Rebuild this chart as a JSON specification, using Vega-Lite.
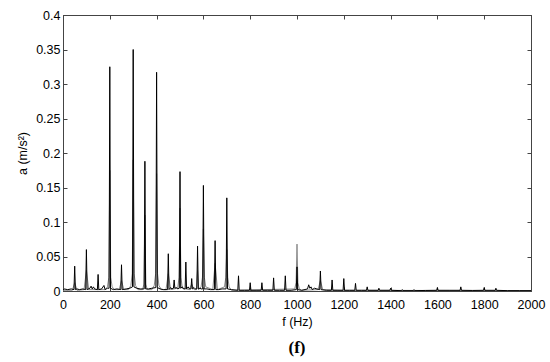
{
  "$schema": "https://vega.github.io/schema/vega-lite/v6.json",
  "width": 468,
  "height": 276,
  "autosize": {"type": "none"},
  "padding": {"left": 63, "top": 15, "right": 19, "bottom": 71},
  "background": "white",
  "title": {"text": "(f)", "orient": "bottom", "font": "Liberation Serif", "fontSize": 17, "fontWeight": "bold", "color": "#000", "offset": 12},
  "config": {
    "view": {"stroke": "#444", "strokeWidth": 1},
    "axis": {"grid": false, "labelFont": "Liberation Sans", "labelFontSize": 12.5, "labelColor": "#000", "titleFont": "Liberation Sans", "titleFontSize": 12.5, "titleFontWeight": "normal", "titleColor": "#000", "domainColor": "#444", "tickColor": "#444", "tickSize": -4}
  },
  "datasets": {
    "black": [
      {"f": 0, "a": 0.001}, {"f": 5, "a": 0.003}, {"f": 20, "a": 0.002}, {"f": 35, "a": 0.003},
      {"f": 47, "a": 0.002}, {"f": 50, "a": 0.036}, {"f": 53, "a": 0.002},
      {"f": 60, "a": 0.003}, {"f": 70, "a": 0.002}, {"f": 85, "a": 0.003},
      {"f": 97, "a": 0.002}, {"f": 100, "a": 0.060}, {"f": 103, "a": 0.002},
      {"f": 115, "a": 0.004}, {"f": 120, "a": 0.007}, {"f": 125, "a": 0.003}, {"f": 130, "a": 0.006}, {"f": 135, "a": 0.003},
      {"f": 147, "a": 0.002}, {"f": 150, "a": 0.024}, {"f": 153, "a": 0.002},
      {"f": 165, "a": 0.003}, {"f": 175, "a": 0.008}, {"f": 180, "a": 0.002}, {"f": 190, "a": 0.004},
      {"f": 197, "a": 0.004}, {"f": 200, "a": 0.325}, {"f": 203, "a": 0.004},
      {"f": 215, "a": 0.002}, {"f": 230, "a": 0.003},
      {"f": 247, "a": 0.002}, {"f": 250, "a": 0.038}, {"f": 253, "a": 0.002},
      {"f": 270, "a": 0.003}, {"f": 285, "a": 0.004},
      {"f": 297, "a": 0.006}, {"f": 300, "a": 0.350}, {"f": 303, "a": 0.006},
      {"f": 315, "a": 0.004}, {"f": 330, "a": 0.003},
      {"f": 347, "a": 0.003}, {"f": 350, "a": 0.188}, {"f": 353, "a": 0.003},
      {"f": 365, "a": 0.003}, {"f": 380, "a": 0.004},
      {"f": 397, "a": 0.005}, {"f": 400, "a": 0.317}, {"f": 403, "a": 0.005},
      {"f": 415, "a": 0.003}, {"f": 430, "a": 0.002},
      {"f": 447, "a": 0.002}, {"f": 450, "a": 0.054}, {"f": 453, "a": 0.002},
      {"f": 460, "a": 0.005}, {"f": 465, "a": 0.003}, {"f": 472, "a": 0.004}, {"f": 475, "a": 0.016}, {"f": 478, "a": 0.004}, {"f": 485, "a": 0.005}, {"f": 490, "a": 0.003},
      {"f": 497, "a": 0.004}, {"f": 500, "a": 0.173}, {"f": 503, "a": 0.004},
      {"f": 510, "a": 0.006}, {"f": 515, "a": 0.003},
      {"f": 522, "a": 0.003}, {"f": 525, "a": 0.042}, {"f": 528, "a": 0.003},
      {"f": 535, "a": 0.006}, {"f": 540, "a": 0.003},
      {"f": 547, "a": 0.003}, {"f": 550, "a": 0.018}, {"f": 553, "a": 0.003},
      {"f": 560, "a": 0.005}, {"f": 565, "a": 0.003},
      {"f": 572, "a": 0.003}, {"f": 575, "a": 0.065}, {"f": 578, "a": 0.003},
      {"f": 585, "a": 0.004}, {"f": 590, "a": 0.003},
      {"f": 597, "a": 0.003}, {"f": 600, "a": 0.153}, {"f": 603, "a": 0.003},
      {"f": 615, "a": 0.003}, {"f": 630, "a": 0.002},
      {"f": 647, "a": 0.002}, {"f": 650, "a": 0.073}, {"f": 653, "a": 0.002},
      {"f": 665, "a": 0.002}, {"f": 680, "a": 0.003},
      {"f": 697, "a": 0.003}, {"f": 700, "a": 0.135}, {"f": 703, "a": 0.003},
      {"f": 720, "a": 0.002},
      {"f": 747, "a": 0.001}, {"f": 750, "a": 0.022}, {"f": 753, "a": 0.001},
      {"f": 775, "a": 0.001},
      {"f": 797, "a": 0.001}, {"f": 800, "a": 0.012}, {"f": 803, "a": 0.001},
      {"f": 825, "a": 0.001},
      {"f": 847, "a": 0.001}, {"f": 850, "a": 0.012}, {"f": 853, "a": 0.001},
      {"f": 875, "a": 0.001},
      {"f": 897, "a": 0.001}, {"f": 900, "a": 0.019}, {"f": 903, "a": 0.001},
      {"f": 925, "a": 0.001},
      {"f": 947, "a": 0.001}, {"f": 950, "a": 0.022}, {"f": 953, "a": 0.001},
      {"f": 975, "a": 0.001},
      {"f": 997, "a": 0.002}, {"f": 1000, "a": 0.035}, {"f": 1003, "a": 0.002},
      {"f": 1020, "a": 0.001},
      {"f": 1045, "a": 0.003}, {"f": 1050, "a": 0.009}, {"f": 1055, "a": 0.004}, {"f": 1060, "a": 0.006}, {"f": 1065, "a": 0.002}, {"f": 1075, "a": 0.004}, {"f": 1085, "a": 0.003},
      {"f": 1097, "a": 0.002}, {"f": 1100, "a": 0.029}, {"f": 1103, "a": 0.002},
      {"f": 1125, "a": 0.001},
      {"f": 1147, "a": 0.001}, {"f": 1150, "a": 0.016}, {"f": 1153, "a": 0.001},
      {"f": 1175, "a": 0.001},
      {"f": 1197, "a": 0.001}, {"f": 1200, "a": 0.018}, {"f": 1203, "a": 0.001},
      {"f": 1225, "a": 0.001},
      {"f": 1247, "a": 0.001}, {"f": 1250, "a": 0.011}, {"f": 1253, "a": 0.001},
      {"f": 1275, "a": 0.001},
      {"f": 1297, "a": 0.001}, {"f": 1300, "a": 0.006}, {"f": 1303, "a": 0.001},
      {"f": 1347, "a": 0.001}, {"f": 1350, "a": 0.004}, {"f": 1353, "a": 0.001},
      {"f": 1397, "a": 0.001}, {"f": 1400, "a": 0.004}, {"f": 1403, "a": 0.001},
      {"f": 1447, "a": 0.0005}, {"f": 1450, "a": 0.002}, {"f": 1453, "a": 0.0005},
      {"f": 1497, "a": 0.0005}, {"f": 1500, "a": 0.002}, {"f": 1503, "a": 0.0005},
      {"f": 1550, "a": 0.0008},
      {"f": 1597, "a": 0.001}, {"f": 1600, "a": 0.005}, {"f": 1603, "a": 0.001},
      {"f": 1650, "a": 0.001},
      {"f": 1697, "a": 0.001}, {"f": 1700, "a": 0.006}, {"f": 1703, "a": 0.001},
      {"f": 1750, "a": 0.0008},
      {"f": 1797, "a": 0.001}, {"f": 1800, "a": 0.005}, {"f": 1803, "a": 0.001},
      {"f": 1847, "a": 0.001}, {"f": 1850, "a": 0.004}, {"f": 1853, "a": 0.001},
      {"f": 1900, "a": 0.0005}, {"f": 1950, "a": 0.0005}, {"f": 2000, "a": 0.0005}
    ],
    "grey": [
      {"f": 0, "a": 0.001}, {"f": 40, "a": 0.001}, {"f": 50, "a": 0.012}, {"f": 60, "a": 0.001},
      {"f": 90, "a": 0.002}, {"f": 100, "a": 0.03}, {"f": 110, "a": 0.002},
      {"f": 180, "a": 0.002}, {"f": 190, "a": 0.006}, {"f": 196, "a": 0.02}, {"f": 200, "a": 0.175}, {"f": 204, "a": 0.02}, {"f": 210, "a": 0.006}, {"f": 220, "a": 0.002},
      {"f": 240, "a": 0.002}, {"f": 250, "a": 0.015}, {"f": 260, "a": 0.002},
      {"f": 280, "a": 0.002}, {"f": 290, "a": 0.008}, {"f": 296, "a": 0.025}, {"f": 300, "a": 0.19}, {"f": 304, "a": 0.025}, {"f": 310, "a": 0.008}, {"f": 320, "a": 0.002},
      {"f": 340, "a": 0.002}, {"f": 346, "a": 0.01}, {"f": 350, "a": 0.11}, {"f": 354, "a": 0.01}, {"f": 360, "a": 0.002},
      {"f": 380, "a": 0.002}, {"f": 390, "a": 0.008}, {"f": 396, "a": 0.025}, {"f": 400, "a": 0.17}, {"f": 404, "a": 0.025}, {"f": 410, "a": 0.008}, {"f": 420, "a": 0.002},
      {"f": 440, "a": 0.002}, {"f": 450, "a": 0.025}, {"f": 460, "a": 0.002},
      {"f": 490, "a": 0.004}, {"f": 496, "a": 0.02}, {"f": 500, "a": 0.12}, {"f": 504, "a": 0.02}, {"f": 510, "a": 0.004},
      {"f": 540, "a": 0.002}, {"f": 550, "a": 0.01}, {"f": 560, "a": 0.002},
      {"f": 570, "a": 0.002}, {"f": 575, "a": 0.03}, {"f": 580, "a": 0.002},
      {"f": 590, "a": 0.006}, {"f": 596, "a": 0.02}, {"f": 600, "a": 0.09}, {"f": 604, "a": 0.02}, {"f": 610, "a": 0.006},
      {"f": 640, "a": 0.002}, {"f": 650, "a": 0.04}, {"f": 660, "a": 0.002},
      {"f": 690, "a": 0.006}, {"f": 696, "a": 0.02}, {"f": 700, "a": 0.06}, {"f": 704, "a": 0.02}, {"f": 710, "a": 0.006}, {"f": 720, "a": 0.001},
      {"f": 990, "a": 0.003}, {"f": 996, "a": 0.012}, {"f": 1000, "a": 0.068}, {"f": 1004, "a": 0.012}, {"f": 1010, "a": 0.003}, {"f": 1020, "a": 0.001},
      {"f": 1090, "a": 0.002}, {"f": 1100, "a": 0.015}, {"f": 1110, "a": 0.002},
      {"f": 1200, "a": 0.001}, {"f": 2000, "a": 0.0005}
    ]
  },
  "layer": [
    {
      "data": {"name": "grey"},
      "mark": {"type": "line", "color": "#8a8a8a", "strokeWidth": 1, "clip": true},
      "encoding": {
        "x": {"field": "f", "type": "quantitative", "scale": {"domain": [0, 2000], "nice": false}, "axis": {"orient": "bottom", "values": [0, 200, 400, 600, 800, 1000, 1200, 1400, 1600, 1800, 2000], "format": "d", "title": "f (Hz)", "labelPadding": 11, "titlePadding": 5, "labelFlush": false}},
        "y": {"field": "a", "type": "quantitative", "scale": {"domain": [0, 0.4], "nice": false}, "axis": {"orient": "left", "values": [0, 0.05, 0.1, 0.15, 0.2, 0.25, 0.3, 0.35, 0.4], "format": ".2~f", "title": "a (m/s²)", "labelPadding": 7, "titlePadding": 6, "labelFlush": false}}
      }
    },
    {
      "data": {"name": "black"},
      "mark": {"type": "line", "color": "#000", "strokeWidth": 1, "clip": true},
      "encoding": {
        "x": {"field": "f", "type": "quantitative", "scale": {"domain": [0, 2000], "nice": false}, "axis": {"orient": "top", "values": [0, 200, 400, 600, 800, 1000, 1200, 1400, 1600, 1800, 2000], "labels": false, "title": null}},
        "y": {"field": "a", "type": "quantitative", "scale": {"domain": [0, 0.4], "nice": false}, "axis": {"orient": "right", "values": [0, 0.05, 0.1, 0.15, 0.2, 0.25, 0.3, 0.35, 0.4], "labels": false, "title": null}}
      }
    }
  ],
  "resolve": {"axis": {"x": "independent", "y": "independent"}}
}
